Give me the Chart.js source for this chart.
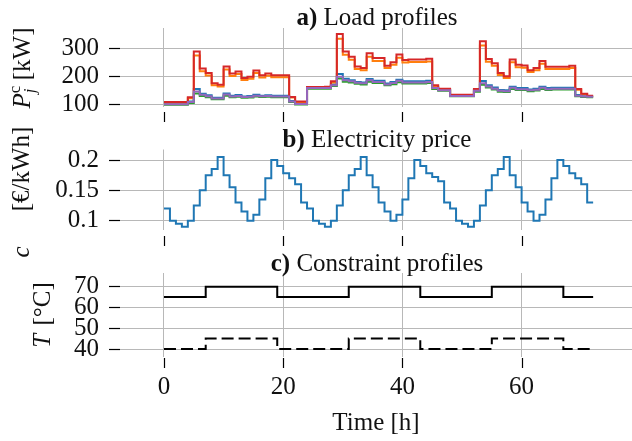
<!DOCTYPE html>
<html>
<head>
<meta charset="utf-8">
<script src="https://cdn.jsdelivr.net/npm/chart.js@4.4.1/dist/chart.umd.min.js"></script>
<style>
body { margin: 0; background: #fff; }
#wrap { position: relative; width: 632px; height: 441px; }
.panel { position: absolute; left: 0; width: 632px; }
</style>
</head>
<body>
<div id="wrap">
  <div class="panel" style="top:0;height:125px"><canvas id="load"></canvas></div>
  <div class="panel" style="top:118px;height:142px"><canvas id="price"></canvas></div>
  <div class="panel" style="top:250px;height:191px"><canvas id="temp"></canvas></div>
</div>
<script>
const hours = [0, 1, 2, 3, 4, 5, 6, 7, 8, 9, 10, 11, 12, 13, 14, 15, 16, 17, 18, 19, 20, 21, 22, 23,
  24, 25, 26, 27, 28, 29, 30, 31, 32, 33, 34, 35, 36, 37, 38, 39, 40, 41, 42, 43, 44, 45, 46, 47,
  48, 49, 50, 51, 52, 53, 54, 55, 56, 57, 58, 59, 60, 61, 62, 63, 64, 65, 66, 67, 68, 69, 70, 71, 72];
const timeTicks = [0, 20, 40, 60];
const loadTicks = [100, 200, 300];
const priceTicks = [0.1, 0.15, 0.2];
const tempTicks = [40, 50, 60, 70];

// load profiles, kW (last value repeats so the final step is drawn)
const loadBlue = [101, 101, 101, 101, 110, 155, 138, 132, 123, 123, 139, 131, 133, 128, 130, 134, 131, 132, 131, 131, 131, 112, 102, 102,
  160, 160, 160, 160, 171, 208, 191, 186, 180, 178, 190, 184, 184, 174, 180, 188, 182, 182, 182, 182, 184, 161, 152, 152,
  131, 131, 131, 131, 150, 183, 168, 160, 151, 150, 163, 158, 158, 153, 156, 163, 158, 159, 159, 159, 159, 133, 129, 128, 128];
const loadOrange = [106, 106, 106, 106, 122, 274, 218, 203, 168, 164, 224, 201, 208, 187, 191, 212, 196, 202, 197, 197, 197, 124, 108, 108,
  160, 160, 160, 161, 178, 334, 277, 259, 226, 222, 270, 255, 255, 230, 241, 266, 249, 251, 251, 251, 253, 164, 153, 153,
  132, 132, 132, 132, 152, 310, 252, 238, 205, 194, 250, 232, 231, 215, 222, 245, 226, 226, 226, 226, 230, 152, 136, 129, 129];
const loadGreen = [98, 98, 98, 98, 105, 139, 130, 125, 118, 118, 131, 125, 127, 123, 124, 128, 126, 127, 125, 125, 125, 108, 99, 99,
  156, 156, 156, 156, 165, 192, 181, 178, 173, 171, 181, 176, 176, 168, 172, 179, 174, 174, 174, 174, 176, 155, 148, 148,
  129, 129, 129, 129, 145, 170, 160, 153, 145, 144, 155, 151, 151, 147, 149, 155, 151, 153, 153, 153, 153, 129, 126, 125, 125];
const loadRed = [108, 108, 108, 108, 125, 289, 228, 212, 175, 170, 235, 210, 217, 194, 198, 221, 204, 210, 204, 204, 204, 126, 110, 110,
  162, 162, 162, 163, 182, 351, 289, 270, 235, 230, 282, 265, 265, 238, 250, 278, 258, 260, 260, 260, 263, 168, 156, 156,
  134, 134, 134, 134, 155, 325, 262, 247, 212, 200, 260, 241, 239, 222, 230, 255, 234, 234, 234, 234, 238, 155, 138, 131, 131];
const loadPurple = [100, 100, 100, 100, 108, 146, 134, 129, 121, 121, 135, 128, 130, 126, 127, 131, 129, 130, 128, 128, 128, 110, 101, 101,
  158, 158, 158, 158, 168, 198, 186, 182, 177, 175, 186, 180, 180, 171, 176, 184, 178, 178, 178, 178, 180, 158, 150, 150,
  130, 130, 130, 130, 148, 175, 164, 156, 148, 147, 159, 154, 154, 150, 152, 159, 154, 156, 156, 156, 156, 131, 128, 127, 127];

// electricity price, EUR/kWh
const price = [0.12, 0.10, 0.095, 0.09, 0.10, 0.125, 0.15, 0.175, 0.185, 0.205, 0.175, 0.155, 0.13, 0.115, 0.10, 0.11, 0.135, 0.17, 0.20, 0.19, 0.178, 0.17, 0.16, 0.13,
  0.12, 0.10, 0.095, 0.09, 0.10, 0.125, 0.15, 0.175, 0.185, 0.205, 0.175, 0.155, 0.13, 0.115, 0.10, 0.11, 0.135, 0.17, 0.20, 0.19, 0.178, 0.172, 0.165, 0.13,
  0.12, 0.10, 0.095, 0.09, 0.10, 0.125, 0.15, 0.175, 0.185, 0.205, 0.175, 0.155, 0.13, 0.115, 0.10, 0.11, 0.135, 0.17, 0.20, 0.19, 0.178, 0.17, 0.16, 0.13, 0.13];

// temperature constraints, degC
const tempUpper = [65, 65, 65, 65, 65, 65, 65, 70, 70, 70, 70, 70, 70, 70, 70, 70, 70, 70, 70, 65, 65, 65, 65, 65,
  65, 65, 65, 65, 65, 65, 65, 70, 70, 70, 70, 70, 70, 70, 70, 70, 70, 70, 70, 65, 65, 65, 65, 65,
  65, 65, 65, 65, 65, 65, 65, 70, 70, 70, 70, 70, 70, 70, 70, 70, 70, 70, 70, 65, 65, 65, 65, 65, 65];
const tempLower = [40, 40, 40, 40, 40, 40, 40, 45, 45, 45, 45, 45, 45, 45, 45, 45, 45, 45, 45, 40, 40, 40, 40, 40,
  40, 40, 40, 40, 40, 40, 40, 45, 45, 45, 45, 45, 45, 45, 45, 45, 45, 45, 45, 40, 40, 40, 40, 40,
  40, 40, 40, 40, 40, 40, 40, 45, 45, 45, 45, 45, 45, 45, 45, 45, 45, 45, 45, 40, 40, 40, 40, 40, 40];

const serif = "'Liberation Serif', 'DejaVu Serif', serif";
const textColor = '#111';
const gridColor = '#b8b8b8';
const xMin = -7.38;
const xMax = 78.52;

function richText(ctx, segs, cx, baseY) {
  let total = 0;
  segs.forEach(s => {
    ctx.font = s.f;
    s.w = ctx.measureText(s.t).width;
    total += (s.gap || 0) + (s.keep ? 0 : s.w);
  });
  let x = cx - total / 2;
  segs.forEach(s => {
    x += s.gap || 0;
    ctx.font = s.f;
    ctx.fillText(s.t, x, baseY + (s.dy || 0));
    if (!s.keep) x += s.w;
  });
}

const decor = {
  id: 'decor',
  afterDraw(chart, args, o) {
    const ctx = chart.ctx;
    ctx.save();
    ctx.fillStyle = textColor;
    ctx.textAlign = 'left';
    ctx.textBaseline = 'alphabetic';
    richText(ctx, o.title, 377, o.titleY);
    ctx.translate(o.labelX, o.labelY);
    ctx.rotate(-Math.PI / 2);
    richText(ctx, o.label, 0, 0);
    ctx.restore();

    const sx = chart.scales.x;
    ctx.save();
    ctx.strokeStyle = '#000';
    ctx.lineWidth = 1.2;
    ctx.beginPath();
    timeTicks.forEach(v => {
      const px = Math.round(sx.getPixelForValue(v)) + 0.5;
      ctx.moveTo(px, o.tickY);
      ctx.lineTo(px, o.tickY + 10);
    });
    ctx.stroke();
    ctx.restore();
  }
};
Chart.register(decor);

const f25 = '25px ' + serif;
const i25 = 'italic 25px ' + serif;
const b25 = 'bold 25px ' + serif;

function series(values, color, extra) {
  return Object.assign({
    data: hours.map((h, i) => ({ x: h, y: values[i] })),
    borderColor: color,
    borderWidth: 2,
    pointRadius: 0,
    stepped: 'before',
    fill: false
  }, extra || {});
}

function panelOptions(p) {
  return {
    responsive: true,
    maintainAspectRatio: false,
    animation: false,
    layout: { autoPadding: false, padding: { top: p.top, left: 0, right: 0, bottom: 0 } },
    plugins: { legend: { display: false }, tooltip: { enabled: false }, decor: p.decor },
    scales: {
      x: {
        type: 'linear',
        bounds: 'data',
        min: xMin,
        max: xMax,
        afterBuildTicks: s => { s.ticks = timeTicks.map(v => ({ value: v })); },
        afterFit: s => { s.height = p.xHeight; s.paddingLeft = 0; s.paddingRight = 0; },
        grid: { color: gridColor, lineWidth: 1, drawTicks: false },
        border: { display: false },
        ticks: { display: p.xLabels, font: { family: serif, size: 25 }, color: textColor, padding: 15, maxRotation: 0 },
        title: { display: p.xLabels, text: 'Time [h]', font: { family: serif, size: 25 }, color: textColor, padding: { top: 0, bottom: 3 } }
      },
      y: {
        bounds: 'data',
        min: p.yMin,
        max: p.yMax,
        afterBuildTicks: s => { s.ticks = p.yTicks.map(v => ({ value: v })); },
        afterFit: s => { s.width = 120; s.paddingTop = 0; s.paddingBottom = 0; },
        grid: { color: gridColor, lineWidth: 1, drawTicks: true, tickLength: 11, tickColor: '#000', tickWidth: 1.2 },
        border: { display: false },
        ticks: { font: { family: serif, size: 25, lineHeight: 1 }, color: textColor, padding: 10, callback: v => String(v) }
      }
    }
  };
}

new Chart(document.getElementById('load'), {
  type: 'line',
  data: {
    datasets: [
      series(loadPurple, '#9467bd'),
      series(loadRed, '#d62728'),
      series(loadGreen, '#2ca02c'),
      series(loadOrange, '#ff7f0e'),
      series(loadBlue, '#1f77b4')
    ]
  },
  options: panelOptions({
    top: 28, xHeight: 18, xLabels: false,
    yMin: 90.4, yMax: 372.5, yTicks: loadTicks,
    decor: {
      title: [{ t: 'a)', f: b25 }, { t: ' Load profiles', f: f25 }],
      titleY: 25,
      label: [
        { t: 'P', f: i25 },
        { t: 'c', f: '17px ' + serif, dy: -10, keep: true },
        { t: 'j', f: 'italic 17px ' + serif, dy: 5 },
        { t: ' [kW]', f: f25, gap: 2 }
      ],
      labelX: 29.5, labelY: 68, tickY: 112
    }
  })
});

new Chart(document.getElementById('price'), {
  type: 'line',
  data: { datasets: [series(price, '#1f77b4')] },
  options: panelOptions({
    top: 31.5, xHeight: 30, xLabels: false,
    yMin: 0.0847, yMax: 0.2173, yTicks: priceTicks,
    decor: {
      title: [{ t: 'b)', f: b25 }, { t: ' Electricity price', f: f25 }],
      titleY: 29,
      label: [{ t: 'c', f: i25 }, { t: '[€/kWh]', f: f25, gap: 35 }],
      labelX: 29, labelY: 74, tickY: 118
    }
  })
});

new Chart(document.getElementById('temp'), {
  type: 'line',
  data: {
    datasets: [
      series(tempUpper, '#000'),
      series(tempLower, '#000', { borderDash: [12, 5] })
    ]
  },
  options: panelOptions({
    top: 23, xHeight: 84, xLabels: true,
    yMin: 36.15, yMax: 76.6, yTicks: tempTicks,
    decor: {
      title: [{ t: 'c)', f: b25 }, { t: ' Constraint profiles', f: f25 }],
      titleY: 20.5,
      label: [{ t: 'T', f: i25 }, { t: ' [°C]', f: f25, gap: 2 }],
      labelX: 49.5, labelY: 65, tickY: 108
    }
  })
});
</script>
</body>
</html>
